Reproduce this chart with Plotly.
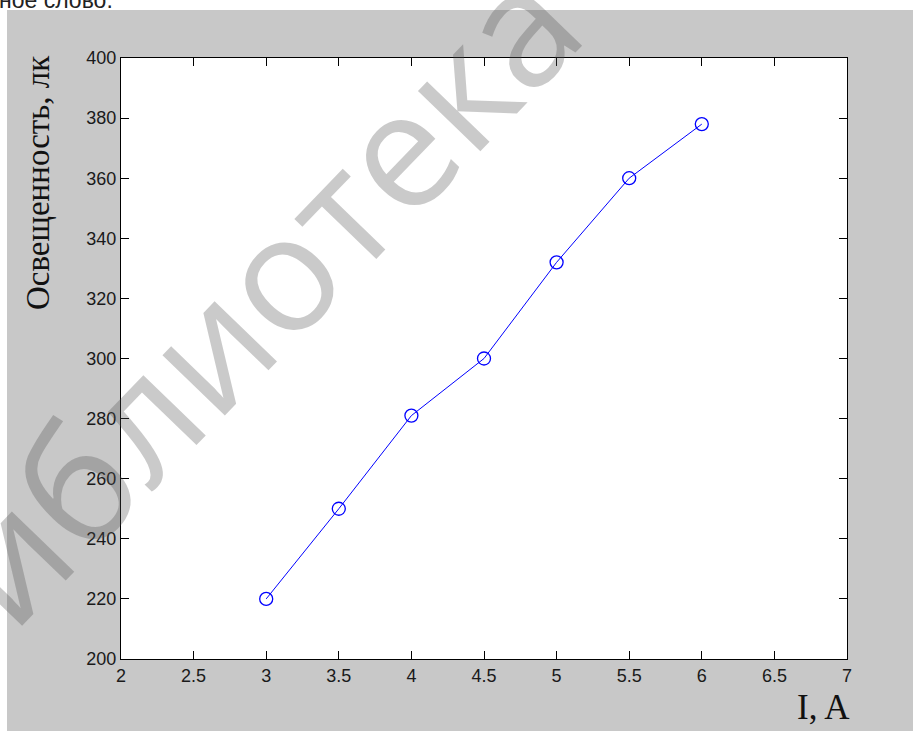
import plotly.graph_objects as go

# Data
current_A = [3, 3.5, 4, 4.5, 5, 5.5, 6]
illuminance_lx = [220, 250, 281, 300, 332, 360, 378]
x_ticks = [2, 2.5, 3, 3.5, 4, 4.5, 5, 5.5, 6, 6.5, 7]
y_ticks = [200, 220, 240, 260, 280, 300, 320, 340, 360, 380, 400]

W, H = 913, 731
L, R, T, B = 121, 66, 58, 72
pw, ph = W - L - R, H - T - B

def px(x):
    return (x - L) / pw

def py(y):
    return (H - B - y) / ph

fig = go.Figure()
fig.add_trace(go.Scatter(
    x=current_A, y=illuminance_lx, mode="lines+markers",
    line=dict(color="#0000ff", width=1),
    marker=dict(symbol="circle-open", size=13, color="#0000ff", line=dict(width=1.3, color="#0000ff")),
    showlegend=False, cliponaxis=False,
))

axis_common = dict(
    showline=True, linecolor="#000000", linewidth=1, mirror="ticks",
    ticks="inside", ticklen=8, tickwidth=1, tickcolor="#000000",
    showgrid=False, zeroline=False,
    tickfont=dict(family="Liberation Sans, Arial, sans-serif", size=18, color="#1a1a1a"),
)

fig.update_xaxes(range=[2, 7], tickvals=x_ticks, ticktext=[f"{v:g}" for v in x_ticks], **axis_common)
fig.update_yaxes(range=[200, 400], tickvals=y_ticks, ticktext=[str(v) for v in y_ticks], **axis_common)

fig.update_layout(
    width=W, height=H,
    margin=dict(l=L, r=R, t=T, b=B, pad=0),
    paper_bgcolor="#c8c8c8", plot_bgcolor="#ffffff",
    shapes=[
        dict(type="rect", xref="paper", yref="paper", x0=-0.3, x1=1.3, y0=py(10), y1=1.3,
             fillcolor="#ffffff", line=dict(width=0), layer="below"),
        dict(type="rect", xref="paper", yref="paper", x0=-0.3, x1=px(7), y0=-0.3, y1=1.3,
             fillcolor="#ffffff", line=dict(width=0), layer="below"),
    ],
    annotations=[
        dict(text="Освещенность, лк", xref="paper", yref="paper", x=px(38), y=py(183),
             textangle=-90, showarrow=False, xanchor="center", yanchor="middle",
             font=dict(family="Liberation Serif, Times New Roman, serif", size=33, color="#111111")),
        dict(text="I, A", xref="paper", yref="paper", x=px(823), y=py(707),
             showarrow=False, xanchor="center", yanchor="middle",
             font=dict(family="Liberation Serif, Times New Roman, serif", size=35, color="#111111")),
        dict(text="ное слово.", xref="paper", yref="paper", x=px(-3), y=py(15),
             showarrow=False, xanchor="left", yanchor="bottom",
             font=dict(family="Liberation Sans, Arial, sans-serif", size=23, color="#222222")),
        dict(text="Библиотека", xref="paper", yref="paper", x=px(222), y=py(328),
             textangle=-46, showarrow=False, xanchor="center", yanchor="middle",
             font=dict(family="Open Sans, Noto Sans, sans-serif", size=162,
                       color="rgba(80,80,80,0.3)")),
    ],
)

fig.write_html("out.html", config={"displayModeBar": False},
               post_script="document.body.style.margin='0';")
